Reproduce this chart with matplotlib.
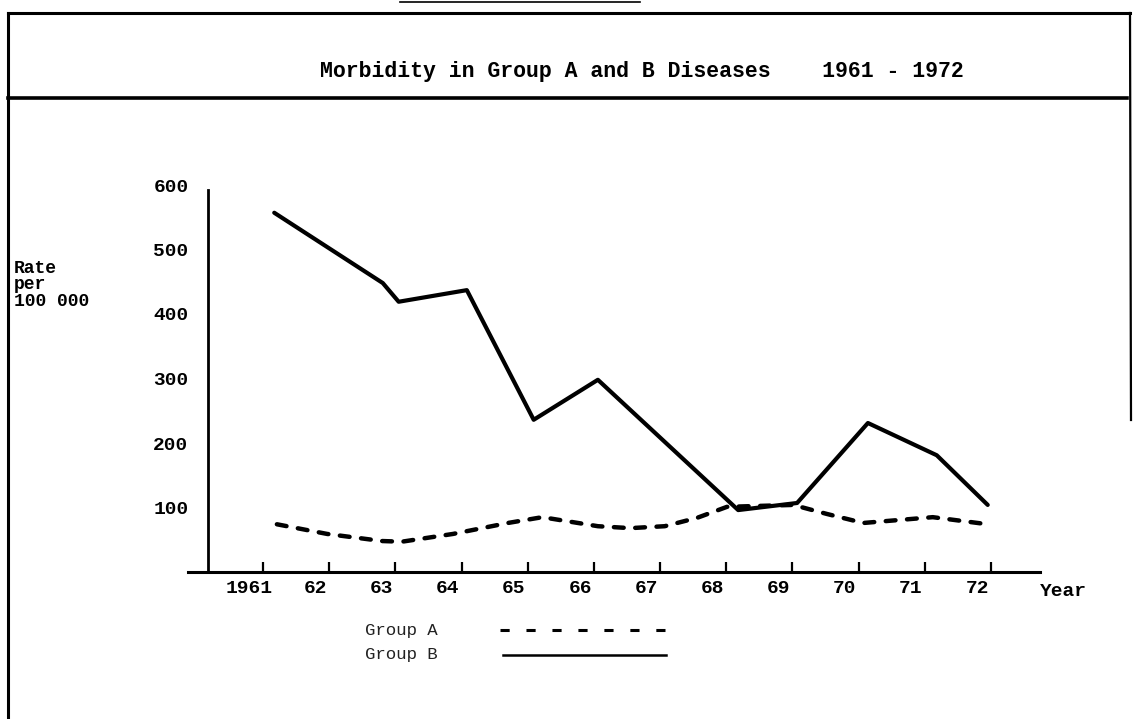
import matplotlib
matplotlib.use("Agg")
import matplotlib.pyplot as plt
from matplotlib.lines import Line2D
from matplotlib.transforms import ScaledTranslation

# values (rate per 100 000)
years = [1961, 1962, 1963, 1964, 1965, 1966, 1967, 1968, 1969, 1970, 1971, 1972]
year_labels = ['1961', '62', '63', '64', '65', '66', '67', '68', '69', '70', '71', '72']
rate_ticks = [100, 200, 300, 400, 500, 600]

group_b_x = [1961.17, 1962.81, 1963.05, 1964.08, 1965.09, 1966.06, 1968.18, 1969.07, 1970.14, 1971.18, 1971.95]
group_b = [557, 448, 419, 437, 236, 298, 96, 107, 231, 181, 104]

group_a_x = [1961.21, 1961.97, 1962.80, 1963.10, 1963.87, 1964.70, 1965.22, 1966.06, 1966.55,
             1967.07, 1967.56, 1968.01, 1969.01, 1969.52, 1970.07, 1971.12, 1971.95]
group_a = [74, 59, 48, 47, 59, 76, 85, 71, 68, 71, 84, 101, 104, 90, 76, 85, 74]

W, H = 1139, 719
mono = 'Liberation Mono'

fig = plt.figure(figsize=(W / 100, H / 100), dpi=100)
fig.patch.set_facecolor('white')


def px(x, y):
    return x / W, 1 - y / H


def frame_line(x0, y0, x1, y1, lw=2.2):
    (a, b), (c, d) = px(x0, y0), px(x1, y1)
    fig.add_artist(Line2D([a, c], [b, d], color='black', lw=lw, transform=fig.transFigure))


# page frame and title rule
frame_line(8, 13, 8, 719)
frame_line(8, 13, 1130, 13)
frame_line(1130, 13, 1131, 420, lw=1.6)
frame_line(8, 98, 1127, 98, lw=2.6)
frame_line(400, 2, 640, 2, lw=1.2)

fig.text(*px(320, 72), 'Morbidity in Group A and B Diseases    1961 - 1972',
         fontfamily=mono, fontweight='bold', fontsize=15.5, va='center', ha='left')

ax = fig.add_axes([188 / W, 1 - 572 / H, (1040 - 188) / W, (572 - 185) / H])
ax.set_xlim(1959.867, 1972.74)
ax.set_ylim(0, 600)
ax.patch.set_alpha(0)

for s in ['top', 'right']:
    ax.spines[s].set_visible(False)
ax.spines['bottom'].set_linewidth(2.2)
ax.spines['left'].set_linewidth(2.0)
ax.spines['left'].set_position(('data', 1960.17))
ax.spines['left'].set_bounds(0, 592)

ax.plot(group_b_x, group_b, color='black', lw=3.0, solid_joinstyle='round', solid_capstyle='round')
ax.plot(group_a_x, group_a, color='black', lw=3.2, linestyle=(0, (2.2, 2.6)), dash_capstyle='round')

ax.set_xticks(years)
ax.set_xticklabels(year_labels, fontfamily=mono, fontweight='bold', fontsize=14)
ax.tick_params(axis='x', direction='in', length=7, width=1.6, pad=6)
for lbl in ax.get_xticklabels():
    lbl.set_transform(lbl.get_transform() + ScaledTranslation(-10 / 72, 0, fig.dpi_scale_trans))

ax.set_yticks(rate_ticks)
ax.set_yticklabels([str(v) for v in rate_ticks], fontfamily=mono, fontweight='bold', fontsize=14)
ax.tick_params(axis='y', length=0, pad=14)

fig.text(*px(1040, 592), 'Year', fontfamily=mono, fontweight='bold', fontsize=14, va='center')

for i, line in enumerate(['Rate', 'per', '100 000']):
    fig.text(*px(14, 268 + 16.5 * i), line, fontfamily=mono, fontweight='bold', fontsize=13, va='center')

# legend
fig.text(*px(365, 631), 'Group A', fontfamily=mono, fontsize=12.5, va='center', color='#222222')
fig.text(*px(365, 655), 'Group B', fontfamily=mono, fontsize=12.5, va='center', color='#222222')
fig.add_artist(Line2D([px(500, 0)[0], px(668, 0)[0]], [px(0, 630)[1]] * 2, color='black', lw=2.2,
                      linestyle=(0, (3, 5.5)), transform=fig.transFigure))
fig.add_artist(Line2D([px(503, 0)[0], px(666, 0)[0]], [px(0, 655)[1]] * 2, color='black', lw=1.8,
                      transform=fig.transFigure))

fig.savefig('out.png', dpi=100, facecolor='white')
